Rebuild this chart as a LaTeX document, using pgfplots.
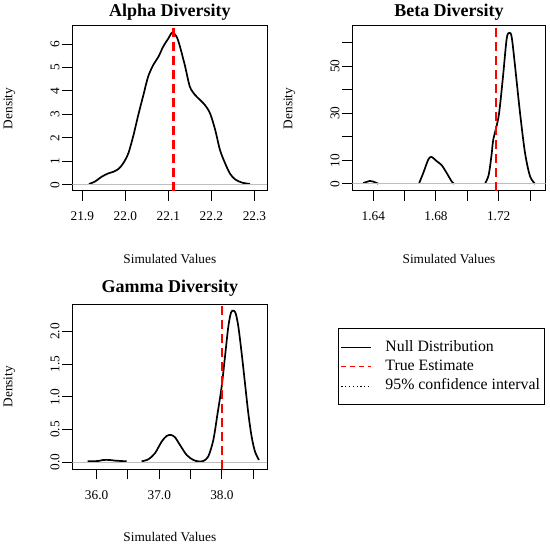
\documentclass[border=0pt]{standalone}
\usepackage{fontspec}
\setmainfont{Liberation Serif}
\usepackage{pgfplots}
\pgfplotsset{compat=1.18}
\definecolor{rgray}{RGB}{190,190,190}

\pgfplotstableread{
x y
21.9155 0.03
21.929 0.13
21.945 0.34
21.960 0.48
21.972 0.55
21.984 0.67
21.995 0.91
22.007 1.34
22.019 2.12
22.030 2.97
22.042 3.83
22.053 4.61
22.065 5.11
22.077 5.46
22.088 5.89
22.100 6.24
22.109 6.49
22.119 6.32
22.127 5.89
22.139 5.04
22.150 4.18
22.162 3.83
22.174 3.61
22.185 3.40
22.197 3.04
22.209 2.33
22.220 1.48
22.232 0.91
22.243 0.48
22.255 0.23
22.271 0.09
22.290 0.03
}\alphatab

\pgfplotstableread{
x y
1.6336 0.4
1.6379 1.3
1.6400 1.0
1.6432 0.1
1.6550 nan
1.6691 0.1
1.6719 4.7
1.6751 10.4
1.6772 11.5
1.6804 9.7
1.6836 8.0
1.6868 4.7
1.6900 1.1
1.6915 0.1
1.7000 nan
1.7113 0.1
1.7134 3.3
1.7145 7.5
1.7156 13.2
1.7166 19.0
1.7200 28.9
1.7226 44.6
1.7251 61.7
1.7268 64.2
1.7283 62.4
1.7304 50.3
1.7336 30.3
1.7368 13.2
1.7400 3.3
1.7432 0.1
}\betatab

\pgfplotstableread{
x y
35.856 0.015
36.027 0.02
36.106 0.036
36.21 0.036
36.29 0.026
36.48 0.015
36.60 nan
36.718 0.015
36.824 0.046
36.93 0.138
37.037 0.316
37.117 0.403
37.186 0.418
37.25 0.383
37.33 0.265
37.436 0.112
37.543 0.036
37.622 0.015
37.70 0.02
37.78 0.087
37.862 0.342
37.93 0.75
37.995 1.158
38.048 1.617
38.101 2.077
38.144 2.291
38.181 2.321
38.218 2.281
38.261 2.077
38.314 1.668
38.367 1.209
38.42 0.75
38.473 0.393
38.527 0.163
38.59 0.036
}\gammatab

\pgfplotsset{
  rpanel/.style={
    scale only axis,
    anchor=south west,
    axis line style={black, line width=1bp},
    tick align=outside,
    tick pos=left,
    major tick length=10bp,
    xtick style={black, line width=1bp},
    ytick style={black, line width=1bp},
    unbounded coords=jump,
    /pgf/number format/assume math mode=true,
    every tick label/.style={font=\fontsize{13.3bp}{15bp}\selectfont},
    every x tick label/.style={anchor=base},
    xticklabel shift=20bp,
    every y tick label/.style={rotate=90, anchor=base},
    yticklabel shift=3bp,
    every axis x label/.style={at={(rel axis cs:0.5,0)}, anchor=base, yshift=-72.5bp, font=\fontsize{13.3bp}{15bp}\selectfont},
    every axis y label/.style={at={(rel axis cs:0,0.5)}, xshift=-63bp, rotate=90, anchor=center, font=\fontsize{13.3bp}{15bp}\selectfont},
    every axis title/.style={at={(rel axis cs:0.5,1)}, anchor=base, yshift=9.5bp, font=\bfseries\fontsize{18bp}{20bp}\selectfont},
    xlabel={Simulated Values},
    ylabel={Density},
  },
  curve/.style={black, line width=1.7bp, smooth},
  zeroline/.style={rgray, line width=1bp},
  trueline/.style={red, line width=2.8bp, dash pattern=on 9bp off 5bp},
}

\begin{document}
\begin{tikzpicture}
\path[use as bounding box] (0bp,0bp) rectangle (550bp,545bp);

% Alpha
\begin{axis}[rpanel, at={(72.3bp,354.3bp)}, width=195bp, height=164.7bp,
  xmin=21.8767, xmax=22.330, ymin=-0.256, ymax=6.77,
  xtick={21.9,22.0,22.1,22.2,22.3}, xticklabels={21.9,22.0,22.1,22.2,22.3},
  ytick={0,1,2,3,4,5,6}, yticklabels={0,1,2,3,4,5,6},
  title={Alpha Diversity}]
\addplot[curve] table[x=x,y=y] {\alphatab};
\addplot[zeroline] coordinates {(21.8767,0) (22.330,0)};
\addplot[trueline] coordinates {(22.1124,-0.256) (22.1124,6.77)};
\end{axis}

% Beta
\begin{axis}[rpanel, at={(352.3bp,354.3bp)}, width=193.4bp, height=164.7bp,
  xmin=1.6266, xmax=1.750, ymin=-2.85, ymax=67.1,
  xtick={1.64,1.66,1.68,1.70,1.72,1.74}, xticklabels={1.64,,1.68,,1.72,},
  ytick={0,10,20,30,40,50,60}, yticklabels={0,10,,30,,50,},
  title={Beta Diversity}]
\addplot[curve] table[x=x,y=y] {\betatab};
\addplot[zeroline] coordinates {(1.6266,0) (1.750,0)};
\addplot[trueline] coordinates {(1.7183,-2.85) (1.7183,67.1)};
\end{axis}

% Gamma
\begin{axis}[rpanel, at={(72.3bp,75.7bp)}, width=195bp, height=165bp,
  xmin=35.612, xmax=38.723, ymin=-0.107, ymax=2.418,
  xtick={36.0,36.5,37.0,37.5,38.0,38.5}, xticklabels={36.0,,37.0,,38.0,},
  ytick={0,0.5,1.0,1.5,2.0}, yticklabels={0.0,0.5,1.0,1.5,2.0},
  title={Gamma Diversity},
  title style={yshift=2bp},
  legend style={at={(rel axis cs:1.364,0.8545)}, anchor=north west,
    draw=black, line width=1bp, fill=white,
    font=\fontsize{15.8bp}{19bp}\selectfont,
    inner xsep=0bp, inner ysep=9.2bp, row sep=0bp, column sep=0bp,
    nodes={inner xsep=5bp, inner ysep=2.35bp, text height=11bp, text depth=3.5bp}},
  legend cell align=left,
  legend image code/.code={\path[draw=none] (0bp,0bp) -- (41.7bp,0bp);\draw[#1] (2.7bp,0bp) -- (32.7bp,0bp);}]
\addlegendimage{black, line width=0.9bp}
\addlegendentry{Null Distribution}
\addlegendimage{red, line width=0.9bp, dash pattern=on 5bp off 4bp}
\addlegendentry{True Estimate}
\addlegendimage{black, line width=0.9bp, dash pattern=on 1.2bp off 2.6bp}
\addlegendentry{95\% confidence interval}
\addplot[curve, forget plot] table[x=x,y=y] {\gammatab};
\addplot[zeroline, forget plot] coordinates {(35.612,0) (38.723,0)};
\addplot[trueline, forget plot] coordinates {(38.0,-0.107) (38.0,2.418)};
\end{axis}
\end{tikzpicture}
\end{document}
